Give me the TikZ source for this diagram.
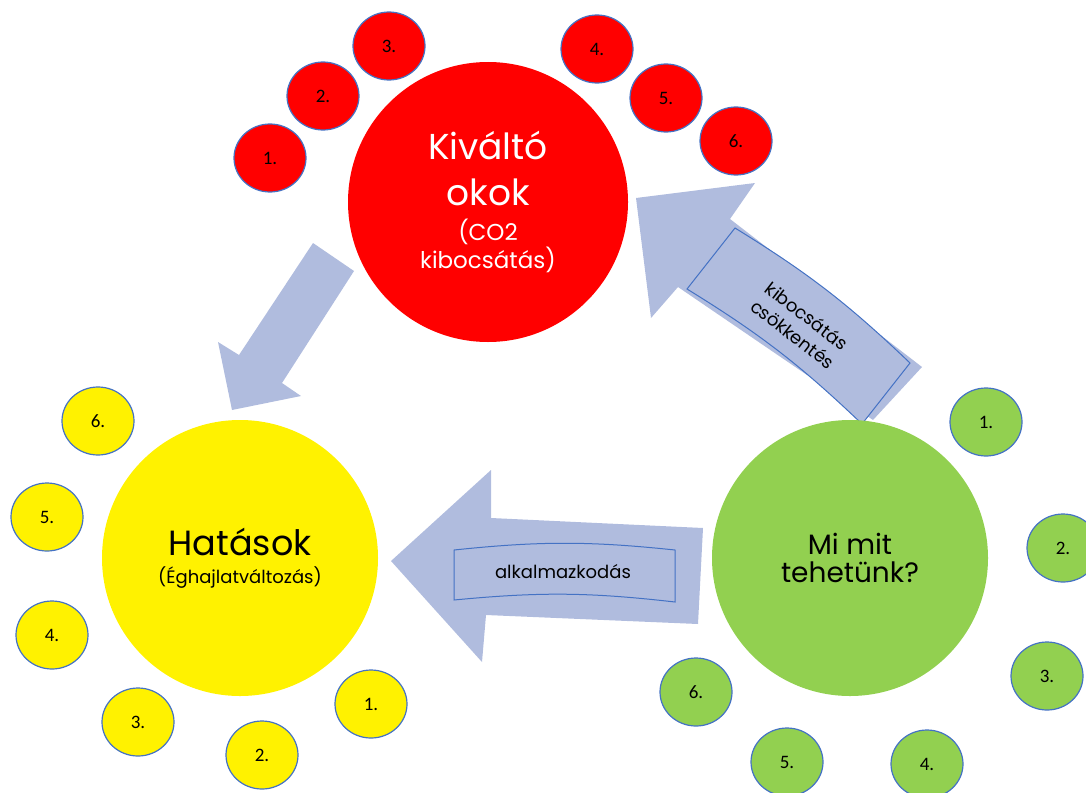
\documentclass[tikz,border=0pt]{standalone}
\usepackage{fontspec}
\setmainfont{Carlito}
\newfontfamily\gothic{Poppins}
\usepackage{xcolor}
\usetikzlibrary{shapes.geometric}
\definecolor{arrowfill}{RGB}{176,188,222}
\definecolor{rim}{RGB}{68,114,196}
\definecolor{leaf}{RGB}{146,208,80}
\newcommand{\hugetext}[1]{{\fontsize{36}{36}\selectfont #1}}
\newcommand{\largetext}[1]{{\fontsize{35}{35}\selectfont #1}}

\begin{document}
\begin{tikzpicture}[
			x=1pt,y=-1pt,
			bigcirc/.style={circle,minimum size=276pt,inner sep=0pt,align=center,font=\gothic},
			smallcirc/.style={ellipse,minimum width=72pt,minimum height=68pt,inner sep=0pt,draw=rim,line width=1.2pt,font=\fontsize{19}{19}\selectfont},
			blockarrow/.style={fill=arrowfill},
			banner/.style={draw=rim,line width=1pt,fill=arrowfill}
			]

			\useasboundingbox (0,0) rectangle (1086,792);

			% block arrows
			\fill[blockarrow] (313,243) -- (354,271) -- (282,383) -- (301,396) -- (232,410) -- (218,342) -- (239,355) -- cycle;
			\fill[blockarrow] (636,198) -- (755,183) -- (730,219) -- (922,367) -- (873,420) -- (678,287) -- (651,318) -- cycle;
			\fill[blockarrow] (391,561) -- (491,470) -- (491,518) -- (703,528) -- (698,624) -- (486,615) -- (482,662) -- cycle;

			% banners
			\draw[banner] (454,550) to[bend left=6] (675,550) -- (675,602) to[bend right=6] (454,600) -- cycle;
			\draw[banner] (735,228) to[bend left=6] (910,363) -- (862,424) to[bend right=6] (687,289) -- cycle;
			\node[font=\gothic\fontsize{18}{18}\selectfont] (adapt) at (563,572) {alkalmazkodás};
			\node[rotate=-37.6,align=center,font=\gothic\fontsize{18}{23}\selectfont] (reduce) at (800,325) {kibocsátás\\csökkentés};

			% main circles
			\node[bigcirc,fill=red,text=white,minimum size=280pt,font=\gothic\fontsize{23}{28}\selectfont] (causes) at (488,202)
				{\hugetext{Kiváltó}\\[18pt]\hugetext{okok}\\[7pt](CO2\\kibocsátás)};
			\node[bigcirc,fill=yellow,font=\gothic\fontsize{18}{22}\selectfont] (effects) at (240,558)
				{\largetext{Hatások}\\[6pt](Éghajlatváltozás)};
			\node[bigcirc,fill=leaf,font=\gothic\fontsize{28}{28}\selectfont] (actions) at (850,558)
				{Mi mit\\tehetünk?};

			% numbered circles
			\foreach \n/\x/\y in {1/270/158,2/323/96,3/389/46,4/597/49,5/666/98,6/736/141}
				\node[smallcirc,fill=red] (cause\n) at (\x,\y) {\n.};
			\foreach \n/\x/\y in {1/371/704,2/262/755,3/138/722,4/52/635,5/47/517,6/98/421}
				\node[smallcirc,fill=yellow] (effect\n) at (\x,\y) {\n.};
			\foreach \n/\x/\y in {1/986/422,2/1063/548,3/1047/676,4/927/764,5/787/762,6/696/692}
				\node[smallcirc,fill=leaf] (action\n) at (\x,\y) {\n.};

			\end{tikzpicture}
\end{document}
